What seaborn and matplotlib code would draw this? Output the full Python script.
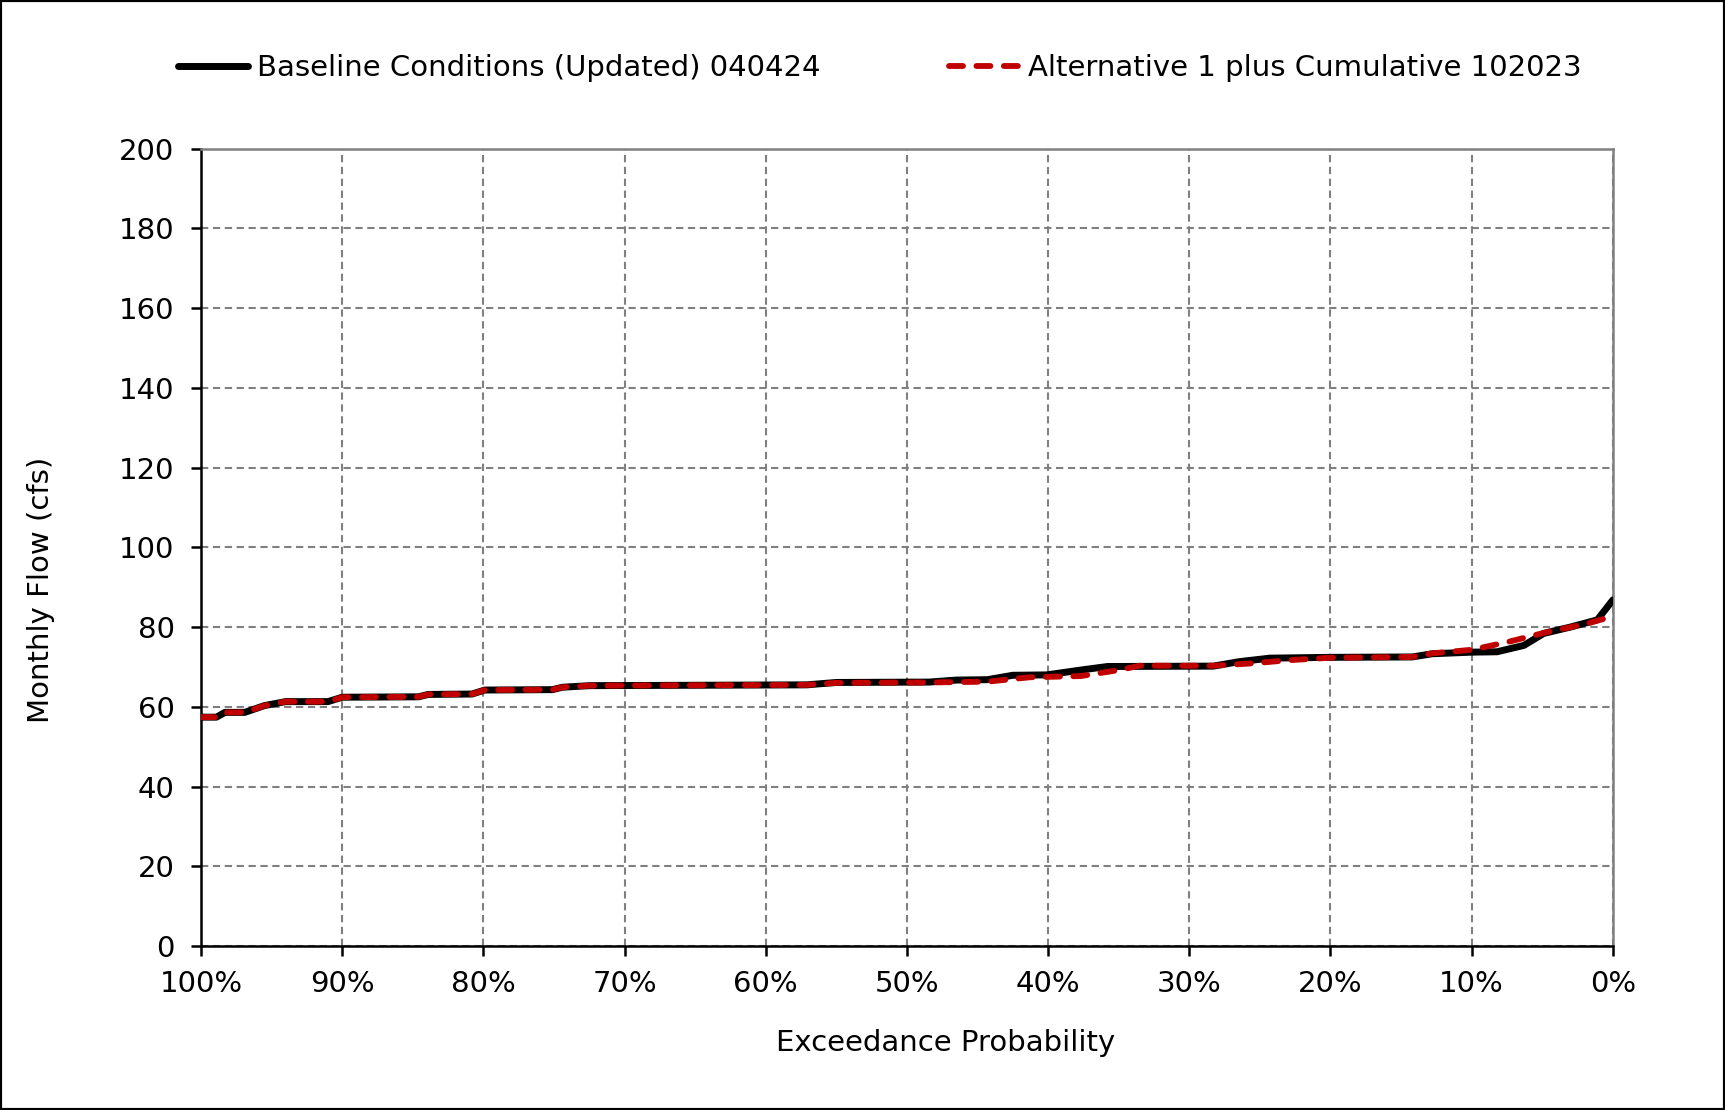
import matplotlib
matplotlib.use("Agg")
import matplotlib.pyplot as plt
import seaborn as sns
import pandas as pd
from matplotlib.patches import Rectangle

# ---- data ----
base_exc = [100, 98.9, 98.3, 96.9, 95.5, 94.0, 91.0, 90.0, 84.6, 83.9, 80.8, 79.9, 75.1, 74.4,
            72.5, 57.1, 55.0, 48.4, 46.5, 44.3, 42.5, 40.1, 37.5, 35.8, 28.3, 26.5, 24.3, 20.0,
            14.2, 12.8, 10.0, 8.2, 6.3, 4.9, 3.0, 1.1, 0]
base_flow = [57.4, 57.4, 58.6, 58.6, 60.3, 61.3, 61.3, 62.4, 62.5, 63.1, 63.2, 64.2, 64.3, 64.9,
             65.3, 65.5, 66.1, 66.2, 66.7, 66.8, 67.9, 68.0, 69.3, 70.1, 70.2, 71.3, 72.2, 72.4,
             72.5, 73.3, 73.7, 73.8, 75.4, 78.4, 80.0, 81.8, 86.8]

alt_exc = [100, 98.9, 98.3, 96.9, 95.5, 94.0, 91.0, 90.0, 84.6, 83.9, 80.8, 79.9, 75.1, 74.4,
           72.5, 57.1, 55.0, 48.4, 44.3, 41.3, 37.7, 35.0, 33.5, 28.3, 25.5, 22.9, 20.0,
           14.2, 12.8, 10.0, 7.5, 4.7, 1.9, 0]
alt_flow = [57.4, 57.4, 58.6, 58.6, 60.3, 61.3, 61.3, 62.4, 62.5, 63.1, 63.2, 64.2, 64.3, 64.9,
            65.3, 65.5, 66.0, 66.1, 66.3, 67.4, 67.7, 69.2, 70.3, 70.3, 70.9, 71.7, 72.3,
            72.5, 73.4, 74.3, 76.2, 78.7, 80.8, 82.7]

series_names = ["Baseline Conditions (Updated) 040424", "Alternative 1 plus Cumulative 102023"]
x_ticks = [100, 90, 80, 70, 60, 50, 40, 30, 20, 10, 0]
x_ticklabels = [f"{t}%" for t in x_ticks]
y_ticks = list(range(0, 201, 20))

sns.set_theme(style="white")
plt.rcParams['font.family'] = ['DejaVu Sans']
plt.rcParams['text.color'] = 'black'
plt.rcParams['axes.labelcolor'] = 'black'

fig = plt.figure(figsize=(17.25, 11.10), dpi=100)
fig.patch.set_facecolor("white")
ax = fig.add_axes([0.1165, 0.1477, 0.8185, 0.7185])

df_b = pd.DataFrame({"exc": base_exc, "flow": base_flow})
df_a = pd.DataFrame({"exc": alt_exc, "flow": alt_flow})

sns.lineplot(data=df_b, x="exc", y="flow", ax=ax, color="black", linewidth=5.0,
             sort=False, label=series_names[0], zorder=3)
sns.lineplot(data=df_a, x="exc", y="flow", ax=ax, color="#C00000", linewidth=4.2,
             sort=False, label=series_names[1], zorder=4)
ax.lines[1].set_dashes([2.4, 2.3])
ax.lines[1].set_dash_capstyle("round")
ax.lines[0].set_solid_capstyle("round")
ax.lines[0].set_solid_joinstyle("round")

ax.set_xlim(100, 0)
ax.set_ylim(0, 200)
ax.set_xticks(x_ticks)
ax.set_xticklabels(x_ticklabels)
ax.set_yticks(y_ticks)

ax.grid(True, color="#808080", linestyle=(0, (3.5, 2.2)), linewidth=1.5)
for s in ["top", "right"]:
    ax.spines[s].set_color("#808080")
    ax.spines[s].set_linewidth(1.8)
for s in ["left", "bottom"]:
    ax.spines[s].set_color("black")
    ax.spines[s].set_linewidth(1.8)

ax.tick_params(axis="both", which="major", direction="out", length=7, width=1.8,
               colors="black", labelsize=21, bottom=True, left=True)
ax.tick_params(axis="y", pad=12)
ax.tick_params(axis="x", pad=10)

ax.set_xlabel("Exceedance Probability", fontsize=21)
ax.set_ylabel("Monthly Flow (cfs)", fontsize=21)
ax.xaxis.set_label_coords((946 - 201) / 1412, (946 - 1043) / 797.5)
ax.yaxis.set_label_coords((41 - 201) / 1412, 0.447)
ax.xaxis.label.set_va("center")
ax.yaxis.label.set_va("center")

ax.get_legend().remove()
handles, labels = ax.get_legend_handles_labels()
fig.legend(handles, labels, loc="center", bbox_to_anchor=(0.51, 1 - 68 / 1110), ncol=2,
           frameon=False, fontsize=21, handlelength=2.4, handletextpad=0.3,
           columnspacing=4.4)

fig.add_artist(Rectangle((0, 0), 1, 1, transform=fig.transFigure, fill=False,
                         edgecolor="black", linewidth=3))

fig.savefig("out.png", dpi=100, facecolor="white")
